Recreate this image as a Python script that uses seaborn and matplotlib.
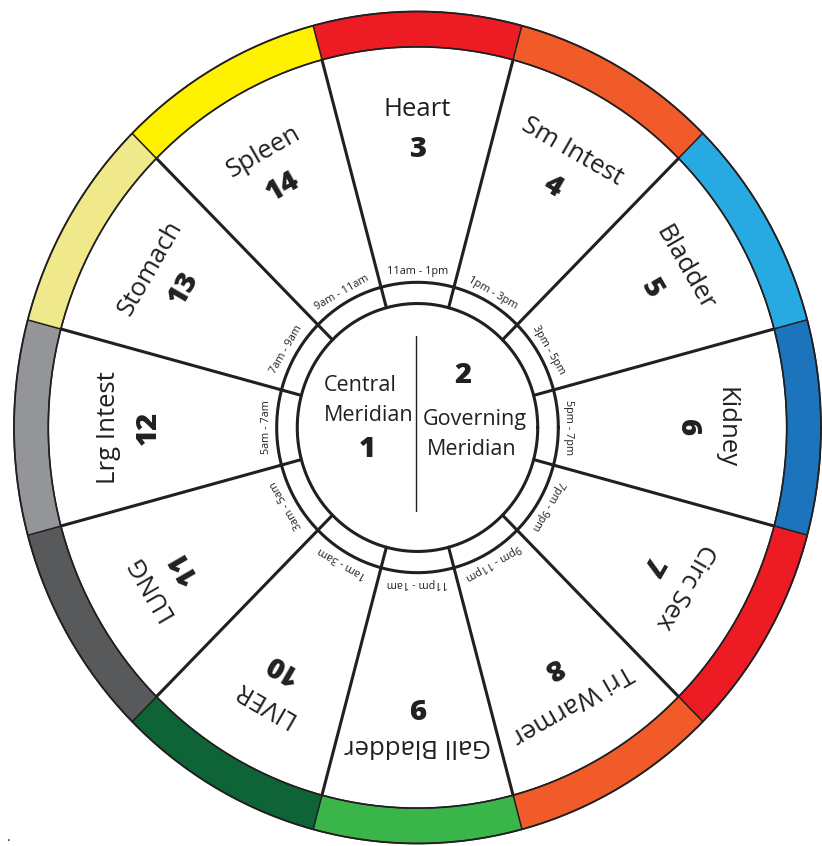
import numpy as np
import matplotlib
matplotlib.use("Agg")
import matplotlib.pyplot as plt
from matplotlib.patches import Wedge
import seaborn as sns

# meridian clock, listed clockwise starting from the top segment
organs = ["Heart", "Sm Intest", "Bladder", "Kidney", "Circ Sex", "Tri Warmer",
          "Gall Bladder", "LIVER", "LUNG", "Lrg Intest", "Stomach", "Spleen"]
numbers = ["3", "4", "5", "6", "7", "8", "9", "10", "11", "12", "13", "14"]
times = ["11am - 1pm", "1pm - 3pm", "3pm - 5pm", "5pm - 7pm", "7pm - 9pm", "9pm - 11pm",
         "11pm - 1am", "1am - 3am", "3am - 5am", "5am - 7am", "7am - 9am", "9am - 11am"]
band_colors = ["#ED1C24", "#F15A29", "#27AAE1", "#1C75BC", "#ED1C24", "#F15A29",
               "#39B54A", "#0E6436", "#58595B", "#939598", "#EFE98B", "#FFF200"]

center_left = ["Central", "Meridian", "1"]
center_right = ["2", "Governing", "Meridian"]

sns.set_theme(style="white")
plt.rcParams["font.family"] = ["Open Sans", "DejaVu Sans"]
ink = "#231F20"

fig = plt.figure(figsize=(8.22, 8.46), dpi=100)
ax = fig.add_axes([0, 0, 1, 1])
ax.set_xlim(-1.0347, 1.0025)
ax.set_ylim(-1.006, 1.0276)
ax.axis("off")

n = len(organs)
step = 360 / n
mid = np.array([90 - step * i for i in range(n)])

# outer coloured band
for a, c in zip(mid, band_colors):
    ax.add_patch(Wedge((0, 0), 1.0, a - step / 2, a + step / 2, width=0.085,
                       facecolor=c, edgecolor=ink, linewidth=1.0))

# rings
t = np.linspace(0, 2 * np.pi, 400)
for r, lw in [(1.0, 1.3), (0.915, 1.2), (0.349, 2.2), (0.298, 2.2)]:
    sns.lineplot(x=r * np.cos(t), y=r * np.sin(t), sort=False, estimator=None,
                 errorbar=None, color=ink, linewidth=lw, ax=ax, legend=False)

# spokes between segments
for a in mid + step / 2:
    rad = np.deg2rad(a)
    ax.plot([0.298 * np.cos(rad), 0.915 * np.cos(rad)],
            [0.298 * np.sin(rad), 0.915 * np.sin(rad)], color=ink, linewidth=2.2)

# segment labels, written along the tangent
for a, name, num, tm in zip(mid, organs, numbers, times):
    rad = np.deg2rad(a)
    rot = a - 90
    ax.text(0.765 * np.cos(rad), 0.765 * np.sin(rad), name, rotation=rot,
            rotation_mode="anchor", ha="center", va="center", fontsize=18.5, color=ink)
    ax.text(0.668 * np.cos(rad), 0.668 * np.sin(rad), num, rotation=rot,
            rotation_mode="anchor", ha="center", va="center", fontsize=21,
            fontweight="heavy", color=ink)
    ax.text(0.374 * np.cos(rad), 0.374 * np.sin(rad), tm, rotation=rot,
            rotation_mode="anchor", ha="center", va="center", fontsize=7.8, color=ink)

# centre
ax.plot([-0.004, -0.004], [0.219, -0.2], color=ink, linewidth=1.0)
ax.text(-0.232, 0.102, center_left[0], ha="left", va="center", fontsize=15.5, color=ink)
ax.text(-0.232, 0.030, center_left[1], ha="left", va="center", fontsize=15.5, color=ink)
ax.text(-0.125, -0.054, center_left[2], ha="center", va="center", fontsize=21,
        fontweight="heavy", color=ink)
ax.text(0.113, 0.124, center_right[0], ha="center", va="center", fontsize=21,
        fontweight="heavy", color=ink)
ax.text(0.141, 0.020, center_right[1], ha="center", va="center", fontsize=15.5, color=ink)
ax.text(0.135, -0.052, center_right[2], ha="center", va="center", fontsize=15.5, color=ink)

fig.text(0.009, 0.006, ".", fontsize=10, color=ink)

fig.savefig("out.png", dpi=100, facecolor="white")
